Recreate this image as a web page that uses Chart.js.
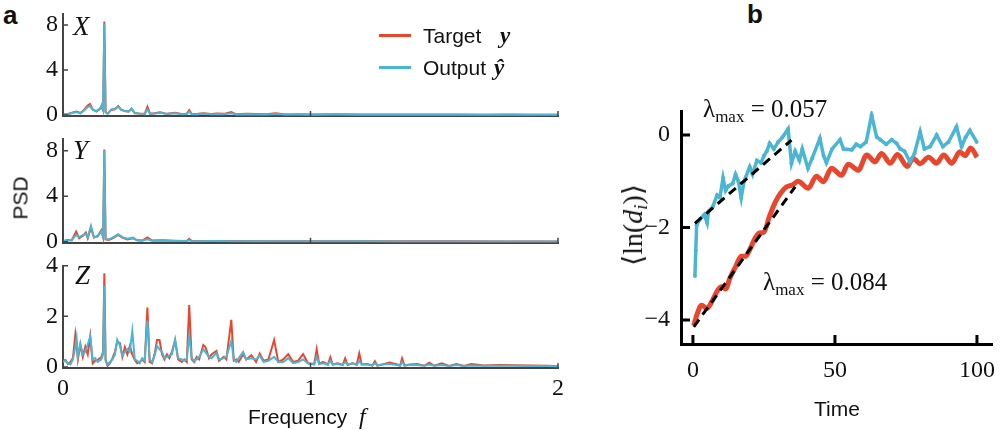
<!DOCTYPE html>
<html lang="en">
<head>
<meta charset="UTF-8">
<title>PSD and Lyapunov divergence</title>
<script src="https://cdn.jsdelivr.net/npm/chart.js"></script>
<style>
    body { margin: 0; background: #fff; }
    #fig { position: relative; width: 1000px; height: 430px; overflow: hidden; }
    #fig canvas { position: absolute; }
    .t { position: absolute; line-height: 1; white-space: nowrap; color: #111; }
    .sans { font-family: 'Liberation Sans', Arial, sans-serif; }
    .serif { font-family: 'Liberation Serif', 'DejaVu Serif', serif; }
    .sub { font-size: 0.68em; vertical-align: -0.28em; line-height: 0; }
    .swatch { position: absolute; height: 3px; width: 32px; }
</style>
</head>
<body>
<div id="fig">
    <div class="t sans" style="left:3px;top:2px;font-size:26px;font-weight:bold;">a</div>
    <div class="t sans" style="left:747px;top:1px;font-size:26px;font-weight:bold;">b</div>

    <canvas id="psdX" width="580" height="125" style="left:0;top:0;"></canvas>
    <canvas id="psdY" width="580" height="125" style="left:0;top:125px;"></canvas>
    <canvas id="psdZ" width="580" height="180" style="left:0;top:250px;"></canvas>
    <canvas id="lyap" width="400" height="340" style="left:600px;top:90px;"></canvas>

    <div class="t serif" style="left:73px;top:13px;font-size:27px;font-style:italic;">X</div>
    <div class="t serif" style="left:73px;top:137px;font-size:27px;font-style:italic;">Y</div>
    <div class="t serif" style="left:75px;top:262px;font-size:27px;font-style:italic;">Z</div>

    <div class="swatch" style="left:379px;top:34px;background:#e8472e;"></div>
    <div class="t sans" style="left:423px;top:25px;font-size:21px;">Target</div>
    <div class="t serif" style="left:500px;top:24px;font-size:23px;font-weight:bold;font-style:italic;">y</div>
    <div class="swatch" style="left:379px;top:66px;background:#4ab6d3;"></div>
    <div class="t sans" style="left:423px;top:57px;font-size:21px;">Output</div>
    <div class="t serif" style="left:494px;top:56px;font-size:23px;font-weight:bold;font-style:italic;">ŷ</div>

    <div class="t sans" style="left:20px;top:198px;font-size:21px;transform:translate(-50%,-50%) rotate(-90deg);">PSD</div>
    <div class="t sans" style="left:248px;top:404px;font-size:21px;">Frequency <span class="serif" style="font-style:italic;font-size:24px;margin-left:6px;">f</span></div>

    <div class="t sans" style="left:787px;top:398px;width:100px;text-align:center;font-size:21px;">Time</div>
    <div class="t serif" style="left:633px;top:225px;font-size:28px;transform:translate(-50%,-50%) rotate(-90deg);">⟨ln(<i>d</i><span class="sub"><i>i</i></span>)⟩</div>
    <div class="t serif" style="left:703px;top:96px;font-size:25px;">λ<span class="sub">max</span> = 0.057</div>
    <div class="t serif" style="left:763px;top:269px;font-size:25px;">λ<span class="sub">max</span> = 0.084</div>
</div>

<script>
    // ---- panel a: power spectral density of each component ----
    const freqX = [0, 0.02, 0.04, 0.055, 0.07, 0.085, 0.1, 0.109, 0.12, 0.135,
        0.15, 0.156, 0.162, 0.167, 0.172, 0.18, 0.195, 0.21, 0.223, 0.235,
        0.25, 0.265, 0.277, 0.29, 0.31, 0.33, 0.341, 0.352, 0.37, 0.392,
        0.42, 0.452, 0.48, 0.5, 0.51, 0.52, 0.545, 0.567, 0.6, 0.62,
        0.65, 0.68, 0.7, 0.74, 0.78, 0.82, 0.86, 0.9, 0.95, 1.0,
        1.1, 1.2, 1.3, 1.4, 1.5, 1.6, 1.7, 1.8, 1.9, 2.0];
    const targetX = [0.05, 0.08, 0.22, 0.3, 0.18, 0.45, 0.85, 0.98, 0.5, 0.3,
        0.55, 0.7, 0.4, 8.3, 0.3, 0.1, 0.45, 0.5, 0.8, 0.45,
        0.35, 0.3, 0.55, 0.15, 0.12, 0.1, 0.73, 0.12, 0.15, 0.24,
        0.1, 0.2, 0.08, 0.1, 0.44, 0.08, 0.1, 0.15, 0.08, 0.12,
        0.1, 0.26, 0.06, 0.1, 0.08, 0.06, 0.15, 0.05, 0.06, 0.05,
        0.07, 0.05, 0.04, 0.05, 0.04, 0.04, 0.03, 0.04, 0.03, 0.03];
    const outputX = [0.04, 0.06, 0.2, 0.25, 0.15, 0.4, 0.7, 0.8, 0.45, 0.35,
        0.6, 0.89, 0.45, 8.1, 0.25, 0.1, 0.5, 0.55, 0.72, 0.5,
        0.35, 0.3, 0.59, 0.2, 0.12, 0.08, 0.5, 0.1, 0.12, 0.2,
        0.08, 0.15, 0.06, 0.08, 0.3, 0.06, 0.07, 0.1, 0.06, 0.08,
        0.06, 0.15, 0.05, 0.06, 0.05, 0.04, 0.08, 0.04, 0.04, 0.03,
        0.04, 0.03, 0.03, 0.03, 0.03, 0.03, 0.02, 0.03, 0.02, 0.02];

    const freqY = [0, 0.02, 0.035, 0.053, 0.065, 0.082, 0.092, 0.1, 0.113, 0.125,
        0.14, 0.155, 0.162, 0.167, 0.172, 0.185, 0.2, 0.223, 0.24, 0.26,
        0.283, 0.3, 0.32, 0.341, 0.36, 0.4, 0.45, 0.5, 0.51, 0.52,
        0.6, 0.7, 0.8, 0.9, 1.0, 1.2, 1.4, 1.6, 1.8, 2.0];
    const targetY = [0.05, 0.15, 0.1, 0.88, 0.3, 0.55, 0.8, 0.3, 1.2, 0.35,
        0.5, 1.0, 0.4, 8.1, 0.2, 0.15, 0.3, 0.6, 0.35, 0.2,
        0.3, 0.12, 0.1, 0.38, 0.1, 0.12, 0.08, 0.06, 0.24, 0.05,
        0.06, 0.05, 0.04, 0.04, 0.03, 0.04, 0.03, 0.03, 0.02, 0.02];
    const outputY = [0.04, 0.12, 0.15, 0.6, 0.4, 0.6, 0.7, 0.4, 1.4, 0.4,
        0.45, 0.9, 0.45, 8.0, 0.25, 0.2, 0.35, 0.65, 0.4, 0.25,
        0.35, 0.12, 0.08, 0.2, 0.08, 0.1, 0.06, 0.05, 0.12, 0.04,
        0.05, 0.04, 0.03, 0.03, 0.03, 0.03, 0.02, 0.02, 0.02, 0.02];

    const freqZ = [0, 0.01, 0.02, 0.03, 0.04, 0.05, 0.055, 0.06, 0.07, 0.08,
        0.09, 0.1, 0.11, 0.12, 0.13, 0.14, 0.155, 0.162, 0.167, 0.172,
        0.18, 0.19, 0.2, 0.21, 0.219, 0.23, 0.24, 0.25, 0.26, 0.27,
        0.28, 0.29, 0.3, 0.31, 0.32, 0.33, 0.341, 0.35, 0.36, 0.37,
        0.38, 0.39, 0.4, 0.41, 0.42, 0.43, 0.44, 0.453, 0.465, 0.48,
        0.49, 0.5, 0.51, 0.52, 0.53, 0.54, 0.55, 0.567, 0.575, 0.59,
        0.6, 0.62, 0.63, 0.65, 0.66, 0.68, 0.69, 0.7, 0.71, 0.728,
        0.74, 0.761, 0.78, 0.795, 0.81, 0.83, 0.853, 0.87, 0.89, 0.91,
        0.93, 0.95, 0.97,
        0.99, 1.015, 1.025, 1.035, 1.05, 1.07, 1.08, 1.09, 1.11, 1.13,
        1.14, 1.15, 1.17, 1.187, 1.197, 1.207, 1.23, 1.25, 1.26, 1.27,
        1.29, 1.32, 1.35, 1.362, 1.37, 1.38, 1.4, 1.43, 1.46, 1.48,
        1.5, 1.53, 1.56, 1.59, 1.62, 1.65, 1.7, 1.76, 1.82, 1.89,
        1.96, 2.0];
    const targetZ = [0.25, 0.28, 0.12, 0.2, 0.35, 1.3, 0.9, 0.3, 0.87, 0.4,
        0.8, 0.5, 1.22, 0.15, 0.25, 0.28, 0.4, 0.6, 3.7, 0.3,
        0.05, 0.15, 0.35, 0.6, 1.0, 0.94, 0.4, 0.78, 0.5, 0.83,
        0.5, 0.28, 0.15, 0.2, 0.3, 0.2, 2.35, 0.2, 0.15, 0.5,
        1.07, 1.07, 0.5, 0.3, 0.5, 0.35, 0.6, 1.05, 0.3, 0.2,
        0.3, 0.2, 2.45, 0.3, 0.2, 0.4, 0.3, 0.87, 0.8, 0.35,
        0.5, 0.64, 0.25, 0.4, 0.3, 1.86, 0.25, 0.3, 0.2, 0.5,
        0.3, 0.47, 0.2, 0.53, 0.25, 0.3, 1.07, 0.2, 0.3, 0.51,
        0.2, 0.25, 0.51,
        0.15, 0.12, 0.7, 0.12, 0.2, 0.1, 0.38, 0.1, 0.15, 0.08,
        0.34, 0.08, 0.15, 0.1, 0.54, 0.1, 0.12, 0.06, 0.23, 0.06,
        0.1, 0.18, 0.1, 0.06, 0.34, 0.06, 0.1, 0.12, 0.05, 0.17,
        0.05, 0.15, 0.04, 0.12, 0.04, 0.12, 0.06, 0.08, 0.07, 0.06,
        0.05, 0.03];
    const outputZ = [0.2, 0.25, 0.15, 0.1, 0.3, 0.8, 1.13, 0.4, 0.94, 0.5,
        0.6, 0.9, 1.2, 0.3, 0.35, 0.2, 0.3, 0.5, 3.2, 0.25,
        0.1, 0.2, 0.3, 0.5, 1.08, 0.85, 0.45, 0.6, 0.7, 0.6,
        1.43, 0.3, 0.25, 0.15, 0.35, 0.25, 1.83, 0.3, 0.2, 0.45,
        0.83, 0.7, 0.6, 0.35, 0.4, 0.45, 0.5, 1.09, 0.35, 0.3,
        0.25, 0.3, 1.26, 0.35, 0.25, 0.3, 0.4, 0.7, 0.6, 0.4,
        0.35, 0.55, 0.3, 0.35, 0.4, 1.03, 0.3, 0.2, 0.35, 0.6,
        0.3, 0.35, 0.3, 0.45, 0.2, 0.25, 0.4, 0.2, 0.2, 0.35,
        0.15, 0.2, 0.3,
        0.15, 0.1, 0.41, 0.12, 0.15, 0.1, 0.25, 0.1, 0.12, 0.08,
        0.2, 0.1, 0.15, 0.08, 0.25, 0.1, 0.1, 0.06, 0.15, 0.06,
        0.1, 0.12, 0.08, 0.05, 0.2, 0.06, 0.08, 0.08, 0.05, 0.1,
        0.05, 0.08, 0.04, 0.08, 0.04, 0.06, 0.05, 0.05, 0.05, 0.04,
        0.04, 0.03];

    const freqTicks = [0, 1, 2];
    const psdTicksXY = [0, 4, 8];
    const psdTicksZ = [0, 2, 4];

    // ---- panel b: mean log separation over time ----
    const timeTarget = [0.3, 1.5, 3, 5, 6.5, 8.5, 10, 11.5, 13, 15,
        17, 18.5, 20, 22, 23.5, 25, 27, 29, 31, 33,
        35, 37, 40.6, 43.5, 45.9, 48.8, 52.3, 54.7, 58.2, 61.2,
        64.1, 66.4, 69.5, 72, 75.5, 77.5, 80, 83, 85.8, 88.3,
        91.1, 94, 95.8, 97.8, 100];
    const lnTarget = [-4.12, -3.87, -3.68, -3.75, -3.62, -3.38, -3.28, -3.33, -3.1, -2.85,
        -2.62, -2.62, -2.48, -2.22, -2.12, -2.1, -1.75, -1.45, -1.25, -1.12,
        -1.08, -1.0, -1.15, -0.89, -1.01, -0.72, -0.87, -0.63, -0.76, -0.43,
        -0.58, -0.4, -0.61, -0.42, -0.68, -0.5, -0.62, -0.48, -0.61, -0.43,
        -0.61, -0.36, -0.45, -0.28, -0.48];
    const timeOutput = [0.7, 1.0, 1.3, 2.5, 4, 5, 5.5, 7, 8.5, 9.5,
        10.6, 11.5, 12.5, 14, 15, 16, 17, 18, 20, 21,
        22.5, 24, 25, 26, 27, 28.5, 30, 31.5, 33.5, 34.7,
        36, 37.5, 38.5, 40.5, 42, 44.7, 46, 47, 49, 51.8,
        53, 55.9, 57.5, 59, 61, 62.9, 64.7, 66, 68, 70,
        71.7, 73, 74.5, 76.4, 78, 80, 81.5, 83.5, 85.8, 88,
        90, 92.8, 94.6, 96, 97.5, 99.9];
    const lnOutput = [-3.05, -2.5, -1.95, -1.82, -1.72, -1.9, -1.65, -1.55, -1.3, -1.35,
        -0.93, -1.2, -1.1, -1.05, -0.85, -1.0, -1.36, -1.0, -0.69, -0.85,
        -0.55, -0.6, -0.45, -0.35, -0.18, -0.3, -0.15, -0.05, 0.13, -0.61,
        -0.35, -0.55, -0.3, -0.72, -0.5, -0.07, -0.45, -0.6, -0.3, -0.1,
        -0.3, -0.32, -0.2, -0.25, -0.15, 0.43, -0.04, -0.1, -0.2, -0.1,
        -0.18, -0.3, -0.35, -0.58, -0.4, 0.07, -0.3, -0.25, 0.0, -0.25,
        -0.15, 0.18, -0.25, -0.05, 0.1, -0.15];
    // linear fits (slopes 0.084 and 0.057)
    const fitTargetT = [0.3, 36];
    const fitTarget = [-4.15, -1.12];
    const fitOutputT = [0.7, 34.7];
    const fitOutput = [-1.91, -0.11];
    const timeTicks = [0, 50, 100];
    const lnTicks = [-4, -2, 0];

    const RED = "#e8472e";
    const BLUE = "#4ab6d3";
    const tickFont = { family: "'Liberation Serif', serif", size: 24 };

    const pts = (xs, ys) => xs.map((x, i) => ({ x: x, y: ys[i] }));
    const fixTicks = vals => (s => { s.ticks = vals.map(v => ({ value: v })); });
    const minus = v => (v < 0 ? "\u2212" + Math.abs(v) : String(v));
    // fixed axis sizes, and no extra room reserved for labels that overhang
    const fixW = w => (s => { s.width = w; s.paddingTop = 0; s.paddingBottom = 0; });
    const fixH = h => (s => { s.height = h; s.paddingLeft = 0; s.paddingRight = 0; });

    // small inward tick marks, like the matplotlib "in" direction
    const inwardTicks = {
        id: "inwardTicks",
        afterDraw(chart, args, opts) {
            const { ctx, chartArea: a, scales: { x, y } } = chart;
            ctx.save();
            ctx.strokeStyle = opts.color;
            ctx.lineWidth = opts.width;
            ctx.beginPath();
            x.ticks.forEach(t => {
                const px = x.getPixelForValue(t.value);
                ctx.moveTo(px, a.bottom);
                ctx.lineTo(px, a.bottom - opts.len);
            });
            y.ticks.forEach(t => {
                const py = y.getPixelForValue(t.value);
                ctx.moveTo(a.left, py);
                ctx.lineTo(a.left + opts.len, py);
            });
            ctx.stroke();
            ctx.restore();
        }
    };

    function psdChart(id, freq, target, output, yMin, yMax, yTicks, padTop, xAxisH, showX) {
        return new Chart(document.getElementById(id), {
            type: "line",
            data: {
                datasets: [
                    { data: pts(freq, output), borderColor: BLUE, borderWidth: 2, pointRadius: 0, tension: 0, order: 1 },
                    { data: pts(freq, target), borderColor: RED, borderWidth: 2, pointRadius: 0, tension: 0, order: 2 }
                ]
            },
            options: {
                responsive: false,
                animation: false,
                events: [],
                layout: { padding: { left: 0, right: 22, top: padTop, bottom: 0 } },
                scales: {
                    x: {
                        type: "linear", min: 0, max: 2,
                        afterBuildTicks: fixTicks(freqTicks),
                        afterFit: fixH(xAxisH),
                        grid: { drawOnChartArea: false, drawTicks: false },
                        border: { color: "#444", width: 2 },
                        ticks: { display: showX, font: tickFont, color: "#111", padding: 6, maxRotation: 0 }
                    },
                    y: {
                        min: yMin, max: yMax,
                        afterBuildTicks: fixTicks(yTicks),
                        afterFit: fixW(63),
                        grid: { drawOnChartArea: false, drawTicks: false },
                        border: { color: "#444", width: 2 },
                        ticks: { font: tickFont, color: "#111", padding: 5 }
                    }
                },
                plugins: {
                    legend: { display: false },
                    tooltip: { enabled: false },
                    inwardTicks: { color: "#444", width: 1.5, len: 5 }
                }
            },
            plugins: [inwardTicks]
        });
    }

    psdChart("psdX", freqX, targetX, outputX, -0.1, 9, psdTicksXY, 13.75, 8.9, false);
    psdChart("psdY", freqY, targetY, outputY, -0.1, 9, psdTicksXY, 14.3, 7.2, false);
    psdChart("psdZ", freqZ, targetZ, outputZ, -0.05, 4, psdTicksZ, 15.7, 61.7, true);

    new Chart(document.getElementById("lyap"), {
        type: "line",
        data: {
            datasets: [
                { data: pts(fitTargetT, fitTarget), borderColor: "#000", borderWidth: 3, borderDash: [9, 6], pointRadius: 0, order: 0 },
                { data: pts(fitOutputT, fitOutput), borderColor: "#000", borderWidth: 3, borderDash: [9, 6], pointRadius: 0, order: 0 },
                { data: pts(timeOutput, lnOutput), borderColor: BLUE, backgroundColor: BLUE, borderWidth: 3.5, pointRadius: 2, pointBorderWidth: 0, tension: 0, order: 1 },
                { data: pts(timeTarget, lnTarget), borderColor: RED, borderWidth: 5, pointRadius: 0, cubicInterpolationMode: "monotone", order: 2 }
            ]
        },
        options: {
            responsive: false,
            animation: false,
            events: [],
            layout: { padding: { left: 0, right: 8, top: 21, bottom: 0 } },
            scales: {
                x: {
                    type: "linear", min: -4.2, max: 105.3,
                    afterBuildTicks: fixTicks(timeTicks),
                    afterFit: fixH(86),
                    grid: { drawOnChartArea: false, drawTicks: false },
                    border: { color: "#000", width: 3 },
                    ticks: { font: tickFont, color: "#111", padding: 12, maxRotation: 0 }
                },
                y: {
                    min: -4.52, max: 0.52,
                    afterBuildTicks: fixTicks(lnTicks),
                    afterFit: fixW(81),
                    grid: { drawOnChartArea: false, drawTicks: false },
                    border: { color: "#000", width: 3 },
                    ticks: { font: tickFont, color: "#111", padding: 11, callback: minus }
                }
            },
            plugins: {
                legend: { display: false },
                tooltip: { enabled: false },
                inwardTicks: { color: "#000", width: 3, len: 9 }
            }
        },
        plugins: [inwardTicks]
    });
</script>
</body>
</html>
